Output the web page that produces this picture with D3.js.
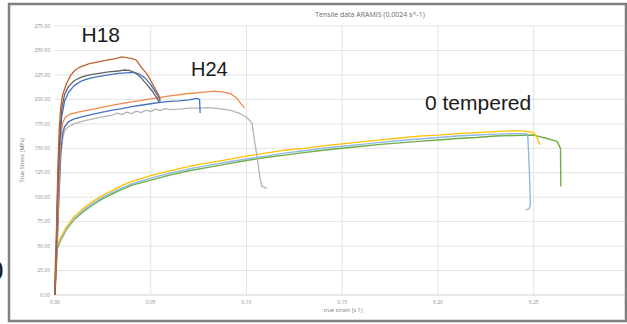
<!DOCTYPE html>
<html>
<head>
<meta charset="utf-8">
<script src="https://cdn.jsdelivr.net/npm/d3@7"></script>
<style>
  body { margin: 0; background: #fff; }
  svg { display: block; font-family: "Open Sans", "Liberation Sans", sans-serif; }
</style>
</head>
<body>
<div id="chart"></div>
<script>
// [true strain, true stress]
const h18Brown = [[0,0],[0.0008,70],[0.0015,130],[0.0022,170],[0.003,192],[0.004,205],[0.006,216],[0.008,224],[0.01,229],[0.013,233],[0.018,236.5],[0.022,238],[0.027,240],[0.031,241.5],[0.035,243.5],[0.038,242.5],[0.04,242],[0.0425,240],[0.045,233],[0.048,226],[0.05,219],[0.052,212],[0.054,205],[0.055,200]];
const h18DarkGray = [[0,0],[0.0008,60],[0.0015,115],[0.0025,165],[0.0035,190],[0.005,205],[0.007,213],[0.01,219],[0.014,223],[0.018,225],[0.023,226.5],[0.028,228],[0.033,229],[0.036,230],[0.039,229.5],[0.042,227],[0.045,222],[0.048,215],[0.051,208],[0.053,202],[0.0545,197]];
const h18Blue = [[0,0],[0.0008,55],[0.0015,105],[0.0025,155],[0.0035,182],[0.005,198],[0.007,207],[0.01,214],[0.014,219],[0.018,221.5],[0.023,223.5],[0.028,225],[0.033,226.5],[0.037,227],[0.041,227.5],[0.044,226],[0.047,222],[0.05,215],[0.052,209],[0.054,203],[0.055,198]];
const h24Orange = [[0,0],[0.001,50],[0.002,110],[0.003,160],[0.004,176],[0.0055,182],[0.008,185],[0.012,187],[0.02,190],[0.03,194],[0.04,197.5],[0.05,200.5],[0.06,203.5],[0.07,206],[0.078,207.5],[0.083,208.5],[0.088,207.5],[0.092,205.5],[0.095,201],[0.097,196],[0.099,191]];
const h24Blue = [[0,0],[0.001,45],[0.002,100],[0.003,145],[0.004,165],[0.005,172],[0.007,177],[0.01,180],[0.015,182.5],[0.02,185],[0.025,187],[0.03,189],[0.035,190.5],[0.04,192.5],[0.045,194],[0.05,195.5],[0.055,197],[0.06,198],[0.065,198.5],[0.07,199.5],[0.074,201],[0.0755,200],[0.0758,186]];
const h24Gray = [[0,0],[0.001,40],[0.002,95],[0.003,140],[0.004,160],[0.005,168],[0.007,172],[0.01,175],[0.015,178],[0.02,180],[0.025,182],[0.03,184],[0.0325,186],[0.035,184.5],[0.0375,187],[0.04,185.5],[0.0425,188],[0.045,186.5],[0.0475,189],[0.05,187.5],[0.0525,190],[0.055,188.5],[0.0575,190.5],[0.06,189.5],[0.065,190],[0.07,191],[0.076,191],[0.08,191.5],[0.085,190.5],[0.0915,189],[0.096,186],[0.1,182],[0.103,175.5],[0.104,160],[0.105,148],[0.1063,131],[0.1072,118],[0.108,111],[0.1107,109]];
const t0Yellow = [[0,0],[0.0003,40],[0.001,50],[0.003,59],[0.006,70],[0.01,80],[0.015,89],[0.02,96],[0.025,102],[0.03,107],[0.035,112],[0.04,116],[0.05,122],[0.06,127],[0.07,131.5],[0.08,135],[0.09,138.5],[0.1,142],[0.11,145],[0.12,148],[0.13,150],[0.14,152.5],[0.15,154.5],[0.16,156.5],[0.17,158.5],[0.18,160.5],[0.19,162.5],[0.2,163.5],[0.21,165],[0.22,166],[0.23,167],[0.24,168],[0.245,167.5],[0.25,166],[0.2515,162],[0.2532,153.5]];
const t0Blue = [[0,0],[0.0003,38],[0.001,48],[0.003,57],[0.006,68],[0.01,78],[0.015,87],[0.02,94],[0.025,100],[0.03,105],[0.035,109.5],[0.04,113.5],[0.05,119.5],[0.06,124.5],[0.07,129],[0.08,132.5],[0.09,136],[0.1,139],[0.11,142],[0.12,145],[0.13,147.5],[0.14,150],[0.15,152],[0.16,154],[0.17,156],[0.18,158],[0.19,159.5],[0.2,161],[0.21,162.5],[0.22,163.5],[0.23,164.5],[0.24,165],[0.2465,165],[0.247,160],[0.2478,125],[0.2483,92],[0.2476,88],[0.2458,87]];
const t0Green = [[0,0],[0.0003,36],[0.001,46],[0.003,56],[0.006,67],[0.01,77],[0.015,85.5],[0.02,92.5],[0.025,98.5],[0.03,103.5],[0.035,108],[0.04,112],[0.05,117.5],[0.06,122.5],[0.07,127],[0.08,130.5],[0.09,134],[0.1,137.5],[0.11,140.5],[0.12,143],[0.13,145.5],[0.14,148],[0.15,150],[0.16,152],[0.17,154],[0.18,155.5],[0.19,157],[0.2,158.5],[0.21,160],[0.22,161],[0.23,162.5],[0.24,163],[0.25,163.5],[0.257,160],[0.2622,157],[0.2635,152],[0.264,150],[0.2642,111]];

const xTicks = [0, 0.05, 0.10, 0.15, 0.20, 0.25, 0.30];
const yTicks = [0, 25, 50, 75, 100, 125, 150, 175, 200, 225, 250, 275];

const series = [
  { data: t0Green, color: "#70ad47", w: 1.4 },
  { data: t0Blue, color: "#8fb9e3", w: 1.4 },
  { data: t0Yellow, color: "#ffc000", w: 1.3 },
  { data: h24Gray, color: "#b4b4b4", w: 1.3 },
  { data: h24Blue, color: "#4472c4", w: 1.3 },
  { data: h24Orange, color: "#f08a4b", w: 1.3 },
  { data: h18Blue, color: "#4472c4", w: 1.3 },
  { data: h18DarkGray, color: "#636363", w: 1.3 },
  { data: h18Brown, color: "#c0612b", w: 1.3 }
];

const width = 627, height = 324;

const svg = d3.select("#chart").append("svg")
    .attr("width", width)
    .attr("height", height);

svg.append("rect").attr("width", width).attr("height", height).attr("fill", "#fff");

const x = d3.scaleLinear().domain([0, 0.30]).range([55, 629.4]);
const y = d3.scaleLinear().domain([0, 275]).range([295, 26]);

const plot = svg.append("g");

// gridlines
plot.selectAll(".hgrid")
    .data(yTicks)
    .enter().append("line")
    .attr("x1", x(0)).attr("x2", width)
    .attr("y1", d => y(d)).attr("y2", d => y(d))
    .attr("stroke", d => d === 0 ? "#cfcfcf" : "#e3e3e3")
    .attr("stroke-width", 1);

plot.selectAll(".vgrid")
    .data(xTicks.slice(1))
    .enter().append("line")
    .attr("x1", d => x(d)).attr("x2", d => x(d))
    .attr("y1", y(275)).attr("y2", y(0))
    .attr("stroke", "#e3e3e3")
    .attr("stroke-width", 1);

// tick labels
plot.selectAll(".ylab")
    .data(yTicks)
    .enter().append("text")
    .attr("x", 50).attr("y", d => y(d) + 1.7)
    .attr("text-anchor", "end")
    .style("font-size", "5px")
    .attr("fill", "#8a8a8a")
    .text(d => d3.format(".2f")(d));

plot.selectAll(".xlab")
    .data(xTicks)
    .enter().append("text")
    .attr("x", d => x(d)).attr("y", 304)
    .attr("text-anchor", "middle")
    .style("font-size", "5px")
    .attr("fill", "#8a8a8a")
    .text(d => d3.format(".2f")(d));

// lines
const line = d3.line().x(d => x(d[0])).y(d => y(d[1]));

plot.selectAll(".curve")
    .data(series)
    .enter().append("path")
    .attr("d", d => line(d.data))
    .attr("fill", "none")
    .attr("stroke", d => d.color)
    .attr("stroke-width", d => d.w)
    .attr("stroke-linejoin", "round");

// axis titles and chart title
svg.append("text")
    .attr("x", 343).attr("y", 312)
    .attr("text-anchor", "middle")
    .style("font-size", "5.5px")
    .attr("fill", "#7a7a7a")
    .text("true strain [s 1]");

svg.append("text")
    .attr("transform", "translate(24,160) rotate(-90)")
    .attr("text-anchor", "middle")
    .style("font-size", "5.5px")
    .attr("fill", "#7a7a7a")
    .text("True Stress [MPa]");

svg.append("text")
    .attr("x", 370).attr("y", 17)
    .attr("text-anchor", "middle")
    .style("font-size", "7px")
    .attr("fill", "#6b6b6b")
    .text("Tensile data ARAMIS (0.0024 s^-1)");

// big annotations
const big = [
  { t: "H18", x: 81.5, y: 41.7, s: 21 },
  { t: "H24", x: 191, y: 76, s: 20 },
  { t: "0 tempered", x: 425, y: 110, s: 21 }
];
svg.selectAll(".big")
    .data(big)
    .enter().append("text")
    .attr("x", d => d.x).attr("y", d => d.y)
    .style("font-family", "'Liberation Sans', Arial, sans-serif")
    .style("font-size", d => d.s + "px")
    .attr("fill", "#1a1a1a")
    .text(d => d.t);

// cut-off glyph at the far left
svg.append("text")
    .attr("x", 3.5).attr("y", 280)
    .attr("text-anchor", "end")
    .style("font-family", "'Liberation Sans', Arial, sans-serif")
    .style("font-size", "28px")
    .attr("fill", "#1a1a1a")
    .text("0");

// frame
svg.append("rect")
    .attr("x", 9).attr("y", 4)
    .attr("width", 617).attr("height", 317)
    .attr("fill", "none")
    .attr("stroke", "#808080")
    .attr("stroke-width", 2.5);
</script>
</body>
</html>
